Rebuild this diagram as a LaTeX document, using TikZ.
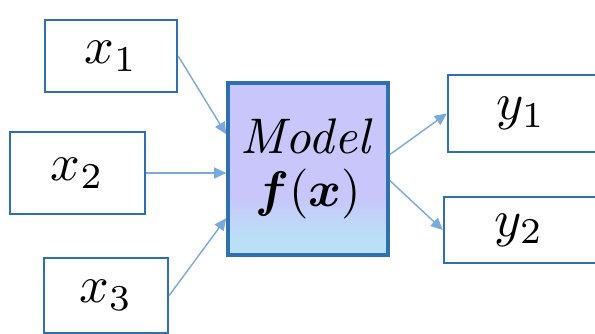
\documentclass[tikz,border=0pt]{standalone}
\usepackage{amsmath}
\usepackage{bm}
\usetikzlibrary{arrows.meta}

\definecolor{mdBoxLine}{RGB}{46,112,176}
\definecolor{mdArrow}{RGB}{120,170,218}
\definecolor{mdFillTop}{RGB}{200,198,250}
\definecolor{mdFillBot}{RGB}{186,224,246}

\pgfdeclareverticalshading{mdmodel}{100bp}{color(0bp)=(mdFillBot);
    color(30bp)=(mdFillBot); color(42bp)=(mdFillTop); color(100bp)=(mdFillTop)}

\newcommand{\mdbig}[1]{\scalebox{5.2}{#1}}

\begin{document}
\begin{tikzpicture}[x=1pt, y=-1pt,
    iobox/.style={draw=mdBoxLine, line width=2.4pt, fill=white, inner sep=0pt},
    modelbox/.style={draw=mdBoxLine, line width=3.6pt, shading=mdmodel,
        inner sep=0pt, minimum width=160pt, minimum height=172pt, align=center},
    flow/.style={draw=mdArrow, line width=1.4pt,
        -{Triangle[length=12pt, width=11pt]}}]
\useasboundingbox (0,0) rectangle (595,334);
%% ── Input boxes ──────────────────────────────────────────────────────────
\node[iobox, minimum width=132pt, minimum height=72pt] (x1) at (111,56) {\mdbig{$x_1$}};
\node[iobox, minimum width=135pt, minimum height=82pt] (x2) at (77.5,173) {\mdbig{$x_2$}};
\node[iobox, minimum width=124pt, minimum height=75pt] (x3) at (106,295.5) {\mdbig{$x_3$}};
%% ── Model box ────────────────────────────────────────────────────────────
\node[modelbox] (model) at (308,169)
    {\scalebox{5}{$\mathit{Model}$}\\[14pt]\scalebox{5}{$\bm{f}(\bm{x})$}};
%% ── Output boxes ─────────────────────────────────────────────────────────
\node[iobox, minimum width=152pt, minimum height=77pt] (y1) at (524,113.5) {\hspace*{-6pt}\mdbig{$y_1$}};
\node[iobox, minimum width=154pt, minimum height=66pt] (y2) at (521,230) {\hspace*{-4pt}\mdbig{$y_2$}};
%% ── Connectors ───────────────────────────────────────────────────────────
\draw[flow] (x1.east) -- (model.157);
\draw[flow] (x2.east) -- (model.west |- x2.east);
\draw[flow] (x3.east) -- (model.211);
\draw[flow] (model.10) -- (y1.west);
\draw[flow] (model.-8) -- (y2.west);
\end{tikzpicture}
\end{document}
